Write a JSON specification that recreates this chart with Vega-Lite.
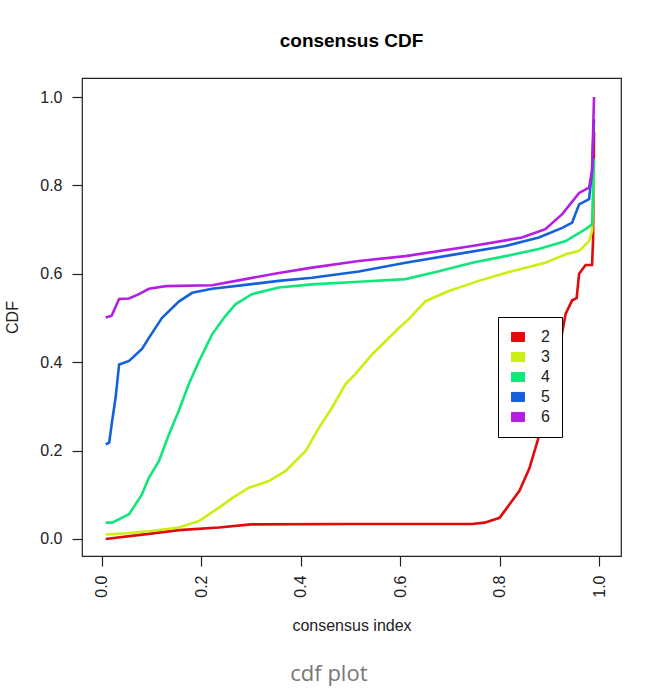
{
  "$schema": "https://vega.github.io/schema/vega-lite/v6.json",
  "padding": {"left": 4, "top": 31, "right": 5, "bottom": 5},
  "background": "white",
  "config": {
    "font": "Liberation Sans",
    "view": {"stroke": "#222", "strokeWidth": 1.2},
    "axis": {
      "domain": false, "grid": false,
      "tickColor": "#222", "tickSize": 10, "tickWidth": 1.2,
      "labelFont": "Liberation Sans", "labelFontSize": 16, "labelColor": "#222",
      "titleFont": "Liberation Sans", "titleFontSize": 16, "titleFontWeight": "normal", "titleColor": "#222"
    }
  },
  "title": {"text": "cdf plot", "orient": "bottom", "anchor": "middle", "font": "Open Sans", "fontSize": 22, "fontWeight": "normal", "color": "#777777", "offset": 30, "dx": 16},
  "vconcat": [
    {
      "width": 539,
      "height": 478,
      "title": {"text": "consensus CDF", "anchor": "middle", "font": "Liberation Sans", "fontSize": 19, "fontWeight": "bold", "color": "#000000", "offset": 27},
      "data": {"values": [
        {"k": "2", "x": 0.008, "y": 0.0},
        {"k": "2", "x": 0.09, "y": 0.011},
        {"k": "2", "x": 0.155, "y": 0.02},
        {"k": "2", "x": 0.236, "y": 0.026},
        {"k": "2", "x": 0.3, "y": 0.033},
        {"k": "2", "x": 0.5, "y": 0.034},
        {"k": "2", "x": 0.745, "y": 0.034},
        {"k": "2", "x": 0.77, "y": 0.037},
        {"k": "2", "x": 0.8, "y": 0.048},
        {"k": "2", "x": 0.81, "y": 0.063},
        {"k": "2", "x": 0.84, "y": 0.109},
        {"k": "2", "x": 0.86, "y": 0.16},
        {"k": "2", "x": 0.876, "y": 0.22},
        {"k": "2", "x": 0.89, "y": 0.28},
        {"k": "2", "x": 0.9, "y": 0.34},
        {"k": "2", "x": 0.91, "y": 0.39},
        {"k": "2", "x": 0.919, "y": 0.425},
        {"k": "2", "x": 0.933, "y": 0.51},
        {"k": "2", "x": 0.946, "y": 0.54},
        {"k": "2", "x": 0.955, "y": 0.545},
        {"k": "2", "x": 0.96, "y": 0.6},
        {"k": "2", "x": 0.973, "y": 0.62},
        {"k": "2", "x": 0.986, "y": 0.62},
        {"k": "2", "x": 0.988, "y": 0.674},
        {"k": "2", "x": 0.99, "y": 0.92},
        {"k": "3", "x": 0.008, "y": 0.01},
        {"k": "3", "x": 0.05, "y": 0.013},
        {"k": "3", "x": 0.1, "y": 0.018},
        {"k": "3", "x": 0.155, "y": 0.026},
        {"k": "3", "x": 0.196, "y": 0.041},
        {"k": "3", "x": 0.236, "y": 0.071},
        {"k": "3", "x": 0.263, "y": 0.093},
        {"k": "3", "x": 0.296, "y": 0.116},
        {"k": "3", "x": 0.336, "y": 0.131},
        {"k": "3", "x": 0.37, "y": 0.154},
        {"k": "3", "x": 0.41, "y": 0.199},
        {"k": "3", "x": 0.437, "y": 0.252},
        {"k": "3", "x": 0.463, "y": 0.297},
        {"k": "3", "x": 0.49, "y": 0.35},
        {"k": "3", "x": 0.51, "y": 0.373},
        {"k": "3", "x": 0.544, "y": 0.418},
        {"k": "3", "x": 0.598, "y": 0.478},
        {"k": "3", "x": 0.618, "y": 0.498},
        {"k": "3", "x": 0.651, "y": 0.538},
        {"k": "3", "x": 0.698, "y": 0.561},
        {"k": "3", "x": 0.758, "y": 0.584},
        {"k": "3", "x": 0.825, "y": 0.606},
        {"k": "3", "x": 0.892, "y": 0.625},
        {"k": "3", "x": 0.933, "y": 0.644},
        {"k": "3", "x": 0.96, "y": 0.652},
        {"k": "3", "x": 0.98, "y": 0.674},
        {"k": "3", "x": 0.986, "y": 0.697},
        {"k": "3", "x": 0.99, "y": 0.83},
        {"k": "4", "x": 0.008, "y": 0.037},
        {"k": "4", "x": 0.021, "y": 0.037},
        {"k": "4", "x": 0.055, "y": 0.056},
        {"k": "4", "x": 0.081, "y": 0.101},
        {"k": "4", "x": 0.095, "y": 0.139},
        {"k": "4", "x": 0.115, "y": 0.176},
        {"k": "4", "x": 0.135, "y": 0.236},
        {"k": "4", "x": 0.155, "y": 0.29},
        {"k": "4", "x": 0.175, "y": 0.35},
        {"k": "4", "x": 0.196, "y": 0.403},
        {"k": "4", "x": 0.222, "y": 0.463},
        {"k": "4", "x": 0.249, "y": 0.505},
        {"k": "4", "x": 0.269, "y": 0.531},
        {"k": "4", "x": 0.302, "y": 0.554},
        {"k": "4", "x": 0.356, "y": 0.569},
        {"k": "4", "x": 0.423, "y": 0.576},
        {"k": "4", "x": 0.517, "y": 0.582},
        {"k": "4", "x": 0.611, "y": 0.588},
        {"k": "4", "x": 0.678, "y": 0.606},
        {"k": "4", "x": 0.745, "y": 0.625},
        {"k": "4", "x": 0.812, "y": 0.64},
        {"k": "4", "x": 0.879, "y": 0.656},
        {"k": "4", "x": 0.933, "y": 0.674},
        {"k": "4", "x": 0.973, "y": 0.701},
        {"k": "4", "x": 0.986, "y": 0.712},
        {"k": "4", "x": 0.99, "y": 0.86},
        {"k": "5", "x": 0.008, "y": 0.214},
        {"k": "5", "x": 0.015, "y": 0.218},
        {"k": "5", "x": 0.021, "y": 0.267},
        {"k": "5", "x": 0.028, "y": 0.32},
        {"k": "5", "x": 0.035, "y": 0.395},
        {"k": "5", "x": 0.055, "y": 0.403},
        {"k": "5", "x": 0.081, "y": 0.43},
        {"k": "5", "x": 0.095, "y": 0.455},
        {"k": "5", "x": 0.121, "y": 0.5},
        {"k": "5", "x": 0.155, "y": 0.537},
        {"k": "5", "x": 0.182, "y": 0.557},
        {"k": "5", "x": 0.222, "y": 0.566},
        {"k": "5", "x": 0.289, "y": 0.575},
        {"k": "5", "x": 0.356, "y": 0.584},
        {"k": "5", "x": 0.423, "y": 0.591},
        {"k": "5", "x": 0.517, "y": 0.605},
        {"k": "5", "x": 0.611, "y": 0.625},
        {"k": "5", "x": 0.711, "y": 0.644},
        {"k": "5", "x": 0.812, "y": 0.663},
        {"k": "5", "x": 0.879, "y": 0.682},
        {"k": "5", "x": 0.926, "y": 0.704},
        {"k": "5", "x": 0.946, "y": 0.716},
        {"k": "5", "x": 0.96, "y": 0.757},
        {"k": "5", "x": 0.98, "y": 0.769},
        {"k": "5", "x": 0.986, "y": 0.833},
        {"k": "5", "x": 0.99, "y": 0.95},
        {"k": "6", "x": 0.008, "y": 0.501},
        {"k": "6", "x": 0.02, "y": 0.505},
        {"k": "6", "x": 0.035, "y": 0.543},
        {"k": "6", "x": 0.055, "y": 0.544},
        {"k": "6", "x": 0.075, "y": 0.554},
        {"k": "6", "x": 0.095, "y": 0.566},
        {"k": "6", "x": 0.129, "y": 0.572},
        {"k": "6", "x": 0.222, "y": 0.574},
        {"k": "6", "x": 0.289, "y": 0.588},
        {"k": "6", "x": 0.356, "y": 0.602},
        {"k": "6", "x": 0.423, "y": 0.614},
        {"k": "6", "x": 0.517, "y": 0.629},
        {"k": "6", "x": 0.611, "y": 0.64},
        {"k": "6", "x": 0.745, "y": 0.663},
        {"k": "6", "x": 0.845, "y": 0.682},
        {"k": "6", "x": 0.892, "y": 0.701},
        {"k": "6", "x": 0.926, "y": 0.735},
        {"k": "6", "x": 0.96, "y": 0.783},
        {"k": "6", "x": 0.98, "y": 0.795},
        {"k": "6", "x": 0.986, "y": 0.833},
        {"k": "6", "x": 0.99, "y": 1.0}
      ]},
      "mark": {"type": "line", "strokeWidth": 2.6, "clip": true},
      "encoding": {
        "x": {
          "field": "x", "type": "quantitative",
          "scale": {"domain": [-0.0396, 1.0442], "nice": false, "zero": false},
          "axis": {"values": [0, 0.2, 0.4, 0.6, 0.8, 1.0], "format": ".1f", "labelAngle": 270, "labelPadding": 9, "labelFlush": false, "labelOverlap": false, "title": "consensus index", "titlePadding": 20}
        },
        "y": {
          "field": "y", "type": "quantitative",
          "scale": {"domain": [-0.0385, 1.043], "nice": false, "zero": false},
          "axis": {"values": [0, 0.2, 0.4, 0.6, 0.8, 1.0], "format": ".1f", "labelAngle": 0, "labelPadding": 10, "labelFlush": false, "labelOverlap": false, "title": "CDF", "titlePadding": 19}
        },
        "color": {
          "field": "k", "type": "nominal",
          "scale": {"domain": ["2", "3", "4", "5", "6"], "range": ["#E00A0A", "#CCEE11", "#11E67A", "#1561DA", "#B51DE3"]},
          "legend": {
            "title": null, "orient": "none", "legendX": 416, "legendY": 239,
            "strokeColor": "#000", "fillColor": "white", "padding": 12,
            "symbolType": "M-1,-0.7H1V0.7H-1Z", "symbolSize": 169,
            "symbolStrokeColor": "#000", "symbolStrokeWidth": 1,
            "labelFontSize": 16, "labelFont": "Liberation Sans", "labelColor": "#222", "labelOffset": 15,
            "rowPadding": 4,
            "encode": {"symbols": {"update": {"fill": {"scale": "color", "field": "value"}, "stroke": {"value": "#000"}, "strokeWidth": {"value": 1}, "opacity": {"value": 1}}}}
          }
        }
      }
    }
  ]
}
